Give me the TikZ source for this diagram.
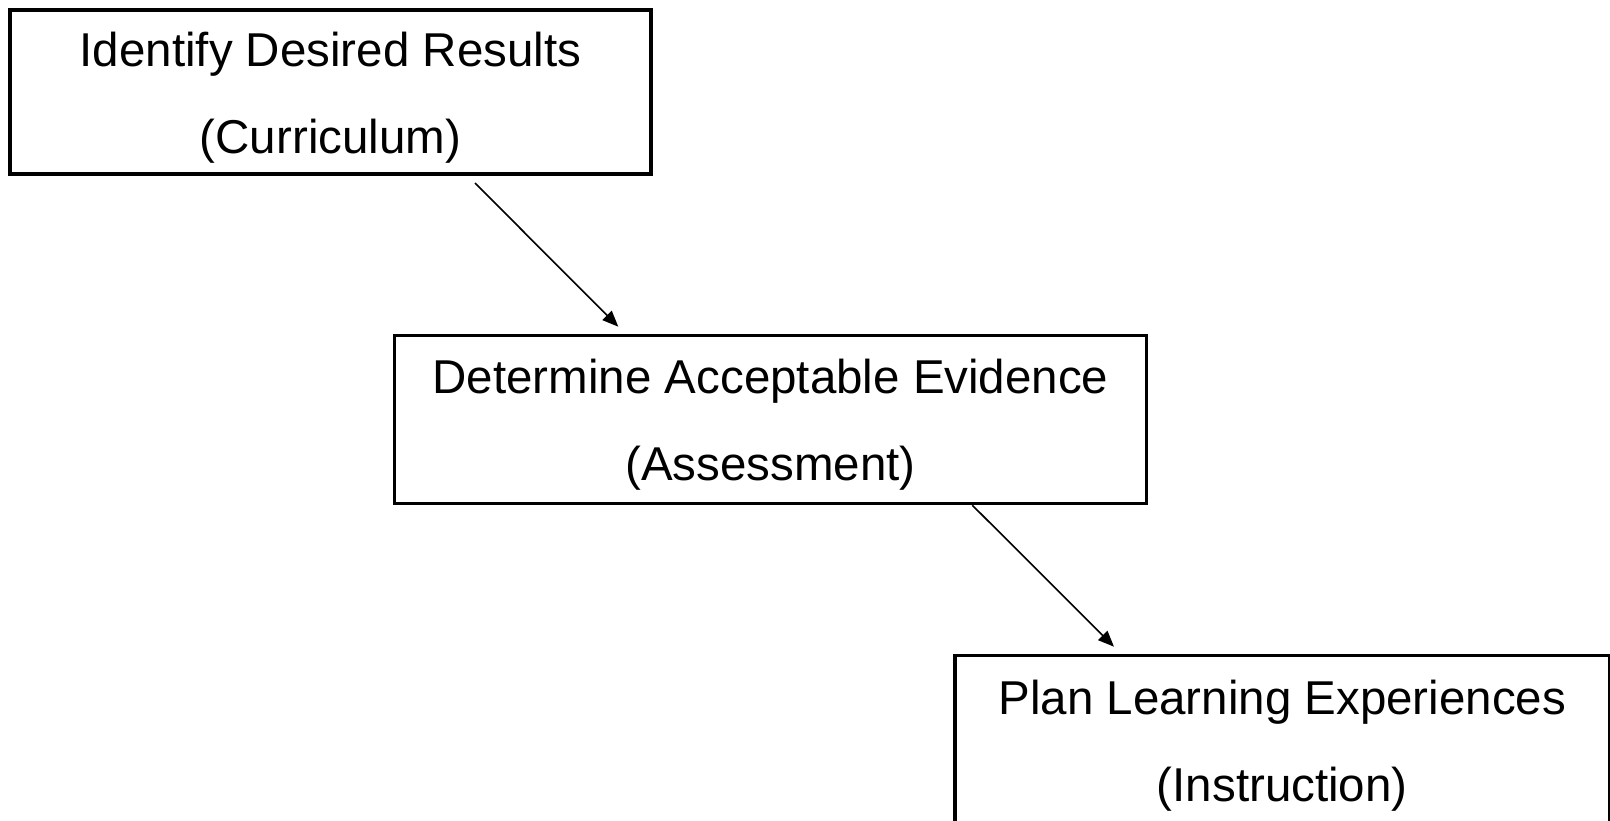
\documentclass[tikz,border=0pt]{standalone}
\usepackage{fontspec}
\setmainfont{Liberation Sans}
\usetikzlibrary{arrows.meta}
\tikzset{
  stagebox/.style={draw=black, line width=3.3pt, rectangle, inner sep=0pt, outer sep=0pt,
    anchor=north west, align=center, font=\fontsize{47.5}{87}\selectfont},
  arr/.style={draw=black, line width=1.6pt, -{Triangle[length=16pt,width=13pt]}}
}
\newcommand{\topstrut}{\rule{0pt}{45pt}}
\begin{document}
\begin{tikzpicture}[x=1pt,y=-1pt]
\path[use as bounding box, fill=white] (0,0) rectangle (1610,821);
\clip (0,0) rectangle (1610,821);
\node[stagebox, minimum width=641pt, minimum height=164pt] (b1) at (10,10)
  {\topstrut Identify Desired Results\\(Curriculum)};
\node[stagebox, minimum width=752.5pt, minimum height=167.5pt] (b2) at (394.3,335.7)
  {\topstrut Determine Acceptable Evidence\\(Assessment)};
\node[stagebox, minimum width=654.5pt, minimum height=170pt] (b3) at (955,655.7)
  {\topstrut Plan Learning Experiences\\(Instruction)};
\draw[arr] ([xshift=465pt,yshift=-9pt]b1.south west) -- ([xshift=224pt,yshift=9pt]b2.north west);
\draw[arr] ([xshift=578pt,yshift=-2pt]b2.south west) -- ([xshift=159pt,yshift=9pt]b3.north west);
\end{tikzpicture}
\end{document}
